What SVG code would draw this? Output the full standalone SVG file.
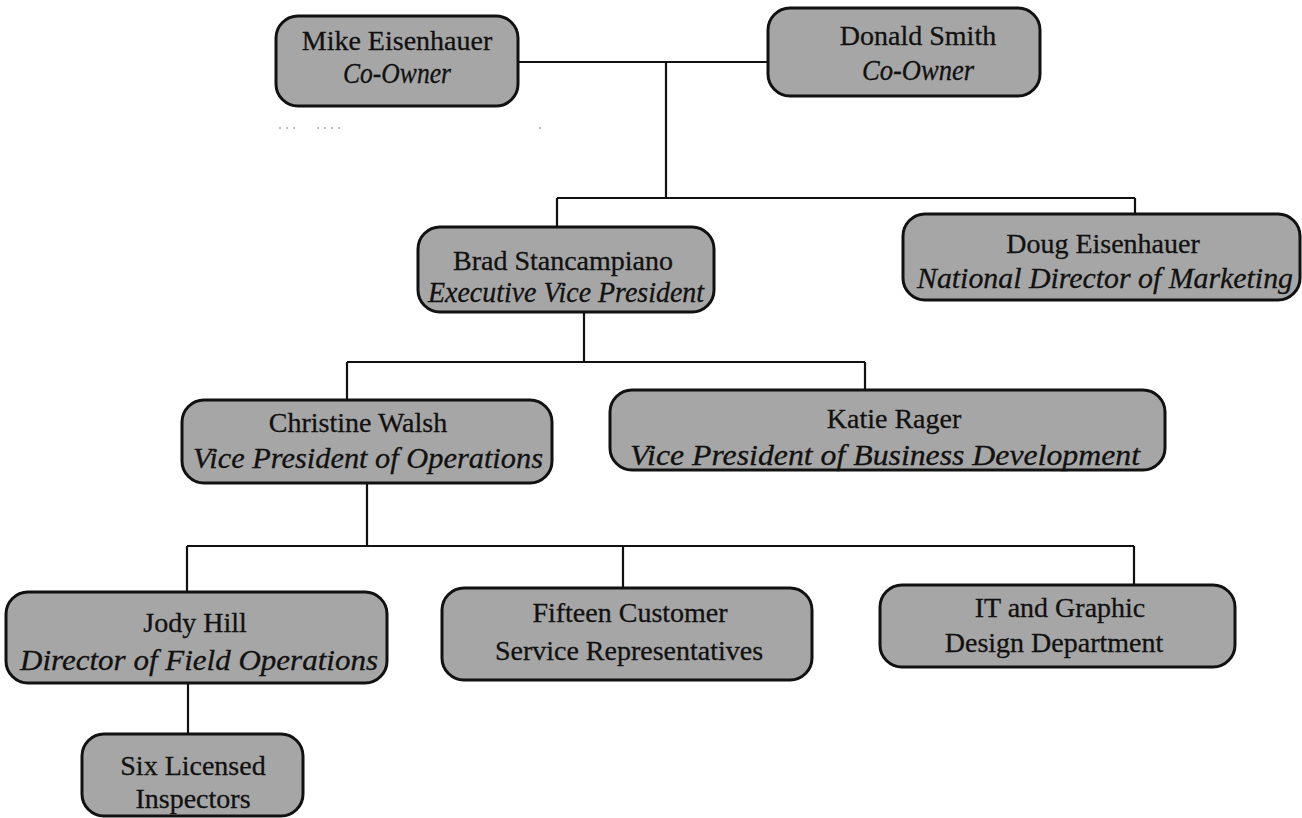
<svg xmlns="http://www.w3.org/2000/svg" width="1302" height="818" viewBox="0 0 1302 818">
<style>
.box{fill:#a6a6a6;stroke:#111;stroke-width:3}
.n,.t{font-family:"Liberation Serif","Times New Roman",serif;font-size:28px;fill:#111;stroke:#111;stroke-width:0.3;text-anchor:middle}
.t{font-style:italic;font-size:29px}
.c{fill:none;stroke:#111;stroke-width:2.2}
.d{fill:#aaa}
</style>
<rect width="1302" height="818" fill="#fff"/>
<g id="specks"><circle class="d" cx="280" cy="128" r="1"/><circle class="d" cx="287" cy="128" r="1"/><circle class="d" cx="294" cy="128" r="1"/><circle class="d" cx="318" cy="128" r="1"/><circle class="d" cx="325" cy="128" r="1"/><circle class="d" cx="332" cy="128" r="1"/><circle class="d" cx="339" cy="128" r="1"/><circle class="d" cx="540" cy="128" r="1"/></g>
<g id="connectors">
<path class="c" d="M518 62H768M666 62V198M557 198H1135M557 198V227M1135 198V214"/>
<path class="c" d="M584 312V362M347 362H865M347 362V400M865 362V390"/>
<path class="c" d="M367 483V546M187 546H1134M187 546V592M623 546V588M1134 546V585"/>
<path class="c" d="M188 683V734"/>
</g>
<g id="mike"><rect class="box" x="276" y="16" width="242" height="90" rx="22"/><text class="n" x="397" y="50">Mike Eisenhauer</text><text class="t" x="397" y="83" textLength="108" lengthAdjust="spacingAndGlyphs">Co-Owner</text></g>
<g id="donald"><rect class="box" x="768" y="8" width="272" height="88" rx="22"/><text class="n" x="918" y="45">Donald Smith</text><text class="t" x="918" y="80" textLength="112" lengthAdjust="spacingAndGlyphs">Co-Owner</text></g>
<g id="brad"><rect class="box" x="418" y="227" width="296" height="85" rx="22"/><text class="n" x="563" y="270">Brad Stancampiano</text><text class="t" x="566" y="302" textLength="276" lengthAdjust="spacingAndGlyphs">Executive Vice President</text></g>
<g id="doug"><rect class="box" x="903" y="214" width="397" height="86" rx="22"/><text class="n" x="1103" y="253">Doug Eisenhauer</text><text class="t" x="1105" y="288" textLength="376" lengthAdjust="spacingAndGlyphs">National Director of Marketing</text></g>
<g id="christine"><rect class="box" x="182" y="400" width="370" height="83" rx="22"/><text class="n" x="358" y="432">Christine Walsh</text><text class="t" x="368" y="468" textLength="350" lengthAdjust="spacingAndGlyphs">Vice President of Operations</text></g>
<g id="katie"><rect class="box" x="610" y="390" width="555" height="80" rx="22"/><text class="n" x="894" y="428">Katie Rager</text><text class="t" x="885" y="465" textLength="510" lengthAdjust="spacingAndGlyphs">Vice President of  Business Development</text></g>
<g id="jody"><rect class="box" x="6" y="592" width="381" height="91" rx="22"/><text class="n" x="195" y="632">Jody Hill</text><text class="t" x="199" y="670" textLength="358" lengthAdjust="spacingAndGlyphs">Director of Field Operations</text></g>
<g id="fifteen"><rect class="box" x="442" y="588" width="370" height="92" rx="22"/><text class="n" x="630" y="622">Fifteen Customer</text><text class="n" x="629" y="660">Service Representatives</text></g>
<g id="it"><rect class="box" x="880" y="585" width="355" height="82" rx="22"/><text class="n" x="1060" y="617">IT and Graphic</text><text class="n" x="1054" y="652">Design Department</text></g>
<g id="six"><rect class="box" x="82" y="734" width="221" height="82" rx="22"/><text class="n" x="193" y="775">Six Licensed</text><text class="n" x="193" y="808">Inspectors</text></g>
</svg>
